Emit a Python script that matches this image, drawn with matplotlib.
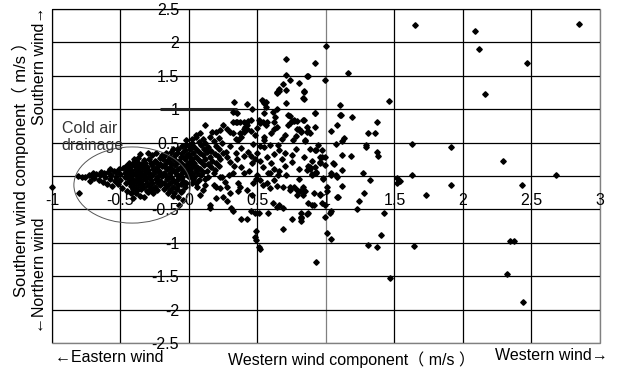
import numpy as np
import matplotlib
matplotlib.use("Agg")
import matplotlib.pyplot as plt
from matplotlib.patches import Ellipse
from matplotlib.ticker import FuncFormatter

plt.rcParams["font.family"] = ["Liberation Sans", "Noto Sans CJK SC", "DejaVu Sans"]
plt.rcParams["font.size"] = 11.5

# ── data: (western component, southern component) in m/s ─────────
outer = [
    (1.65, 2.26), (2.09, 2.17), (2.85, 2.27), (2.12, 1.90), (2.47, 1.69), (2.16, 1.23),
    (1.46, 1.12), (1.16, 1.54), (1.00, 1.94), (0.92, 1.69), (0.87, 1.49), (0.99, 1.43),
    (0.84, 1.27), (0.83, 1.17), (1.10, 1.07), (0.92, 0.94), (1.11, 0.91), (1.10, 0.92),
    (1.19, 0.89), (1.37, 0.81), (0.84, 0.84), (1.08, 0.77), (1.04, 0.68), (0.87, 0.67),
    (0.88, 0.65), (0.82, 0.68), (1.31, 0.65), (1.36, 0.65), (1.13, 0.57), (1.12, 0.53),
    (0.85, 0.53), (1.07, 0.48), (1.29, 0.47), (1.29, 0.44), (0.94, 0.46), (1.63, 0.48),
    (1.91, 0.43), (0.92, 0.39), (0.97, 0.39), (1.12, 0.32), (1.18, 0.30), (1.37, 0.36),
    (1.38, 0.30), (2.29, 0.22), (0.90, 0.23), (0.96, 0.29), (0.99, 0.28), (0.96, 0.20),
    (0.99, 0.17), (0.87, 0.15), (0.88, 0.13), (1.06, 0.18), (1.05, 0.19), (0.93, 0.06),
    (0.90, 0.03), (1.12, 0.09), (1.27, 0.05), (1.32, -0.06), (0.98, -0.03), (1.04, 0.05),
    (1.07, 0.01), (1.12, -0.15), (1.01, -0.17), (1.52, -0.03), (1.54, -0.08), (1.52, -0.11),
    (1.63, 0.01), (1.91, -0.13), (2.43, -0.13), (2.68, 0.01), (1.73, -0.28), (1.24, -0.37),
    (1.28, -0.26), (1.09, -0.31), (0.99, -0.43), (0.90, -0.43), (0.87, -0.41), (0.85, -0.23),
    (0.91, -0.26), (0.96, -0.27), (1.23, -0.49), (1.42, -0.55), (1.03, -0.55), (0.99, -0.62),
    (0.86, -0.57), (0.82, -0.63), (1.01, -0.85), (1.04, -0.94), (1.40, -0.88), (1.31, -1.04),
    (1.37, -1.07), (1.64, -1.05), (0.93, -1.28), (1.47, -1.53), (2.34, -0.97), (2.37, -0.97),
    (2.32, -1.46), (2.44, -1.88), (-1.00, -0.17), (-0.80, -0.25),
]

mid_upper = [
    (0.71, 1.75), (0.71, 1.51), (0.86, 1.50), (0.74, 1.43), (0.80, 1.39), (0.69, 1.37),
    (0.66, 1.30), (0.64, 1.26), (0.71, 1.29), (0.84, 1.26), (0.84, 1.16), (0.71, 1.10),
    (0.92, 0.95), (0.33, 1.11), (0.42, 1.08), (0.46, 1.00), (0.54, 1.13), (0.55, 1.09),
    (0.56, 1.04), (0.53, 1.14), (0.56, 1.11), (0.64, 1.01), (0.61, 0.96), (0.55, 0.95),
    (0.74, 0.90), (0.75, 0.83), (0.77, 0.83), (0.79, 0.83), (0.63, 0.89), (0.51, 0.84),
    (0.54, 0.81), (0.56, 0.76), (0.32, 0.96), (0.35, 0.94), (0.34, 0.81), (0.45, 0.84),
    (0.42, 0.76), (0.40, 0.71), (0.62, 0.81), (0.64, 0.74), (0.72, 0.76), (0.80, 0.71),
    (0.86, 0.74), (0.92, 0.73), (0.66, 1.28), (0.64, 1.25), (0.32, 0.81), (0.35, 0.81),
    (0.37, 0.81), (0.40, 0.81), (0.43, 0.83), (0.41, 0.74), (0.42, 0.70), (0.40, 0.66),
    (0.37, 0.64), (0.38, 0.59), (0.36, 0.54), (0.34, 0.56), (0.32, 0.64), (0.30, 0.66),
    (0.28, 0.71), (0.25, 0.76), (0.23, 0.69), (0.20, 0.66), (0.17, 0.66), (0.12, 0.76),
    (0.08, 0.65), (0.52, 0.79), (0.57, 0.81), (0.60, 0.64), (0.55, 0.59), (0.55, 0.54),
    (0.72, 0.91), (0.74, 0.79), (0.77, 0.84), (0.79, 0.70), (0.82, 0.66), (0.86, 0.66),
    (0.83, 0.84), (0.76, 0.54), (0.85, 0.54), (0.93, 0.39), (0.97, 0.29), (0.75, 0.31),
    (0.75, 0.21), (0.65, 0.46), (0.66, 0.39), (0.59, 0.46), (0.55, 0.44), (0.52, 0.45),
    (0.43, 0.36), (0.34, 0.35), (0.27, 0.36), (0.30, 0.21), (0.38, 0.14), (0.46, 0.19),
    (0.48, 0.26), (0.54, 0.14), (0.62, 0.11), (0.58, 0.04), (0.71, 0.01), (0.74, -0.16),
    (0.77, -0.16), (0.80, -0.04), (0.83, -0.16), (0.88, 0.11), (0.92, 0.14), (0.96, 0.21),
    (0.19, 0.09), (0.24, -0.01), (0.26, -0.09), (0.28, -0.16), (0.20, -0.16), (0.36, -0.23),
    (0.45, 0.30), (0.50, 0.35), (0.57, 0.28), (0.62, 0.33), (0.68, 0.25), (0.70, 0.15),
    (0.60, 0.20), (0.52, 0.22), (0.44, 0.07), (0.50, 0.02), (0.66, 0.07), (0.40, 0.30),
    (0.35, 0.25), (0.38, 0.42), (0.47, 0.48), (0.30, 0.45), (0.28, 0.28), (0.33, 0.15),
    (0.40, 0.05), (0.70, 0.35), (0.78, 0.40), (0.80, 0.10), (0.84, 0.28), (0.88, 0.40),
    (0.78, 0.60), (0.70, 0.62), (0.68, 0.55), (0.62, 0.70), (0.48, 0.62), (0.45, 0.68),
    (0.50, 0.72),
]

mid_lower = [
    (0.15, -0.43), (0.32, -0.53), (0.38, -0.65), (0.42, -0.65), (0.45, -0.53), (0.48, -0.56),
    (0.51, -0.55), (0.49, -0.83), (0.48, -0.91), (0.49, -0.96), (0.51, -1.06), (0.52, -1.10),
    (0.58, -0.56), (0.61, -0.41), (0.64, -0.46), (0.66, -0.43), (0.69, -0.48), (0.69, -0.80),
    (0.75, -0.65), (0.82, -0.56), (0.82, -0.61), (0.82, -0.67), (0.87, -0.56), (0.91, -0.43),
    (1.04, -0.53), (1.08, -0.31), (0.25, -0.31), (0.28, -0.38), (0.20, -0.33), (0.15, -0.48),
    (0.31, -0.48), (0.08, -0.28), (0.10, -0.21), (0.06, -0.16), (0.12, -0.13), (0.18, -0.13),
    (0.23, -0.18), (0.30, -0.26), (0.36, -0.11), (0.37, -0.16), (0.32, 0.04), (0.29, 0.01),
    (0.23, -0.01), (0.18, 0.05), (0.42, -0.21), (0.46, -0.28), (0.47, -0.11), (0.49, -0.04),
    (0.52, -0.06), (0.54, -0.13), (0.57, -0.11), (0.59, -0.18), (0.62, -0.06), (0.64, -0.15),
    (0.65, 0.01), (0.59, 0.04), (0.69, -0.16), (0.74, -0.21), (0.79, -0.21), (0.81, -0.23),
    (0.79, -0.28), (0.83, -0.28), (0.96, -0.28), (1.01, -0.23), (0.97, -0.41), (0.93, 0.04),
    (0.90, 0.01), (0.86, 0.09), (0.98, -0.04), (1.04, 0.01), (1.08, -0.01),
]

core = [
    (-0.05, 0.45), (-0.02, 0.47), (-0.12, 0.40), (-0.08, 0.41), (-0.03, 0.39),
    (-0.17, 0.35), (-0.13, 0.36), (-0.09, 0.34), (-0.05, 0.35), (-0.01, 0.33),
    (-0.18, 0.30), (-0.14, 0.29), (-0.10, 0.31), (-0.06, 0.28), (-0.02, 0.30),
    (-0.19, 0.25), (-0.15, 0.24), (-0.11, 0.26), (-0.07, 0.23), (-0.03, 0.25),
    (-0.17, 0.20), (-0.13, 0.19), (-0.09, 0.21), (-0.05, 0.18), (-0.01, 0.20),
    (-0.18, 0.15), (-0.14, 0.14), (-0.10, 0.16), (-0.06, 0.13), (-0.02, 0.15),
    (-0.16, 0.10), (-0.12, 0.09), (-0.08, 0.11), (-0.04, 0.08), (-0.01, 0.10),
    (-0.18, 0.05), (-0.14, 0.04), (-0.10, 0.06), (-0.06, 0.03), (-0.02, 0.05),
    (-0.17, 0.00), (-0.13, -0.01), (-0.09, 0.01), (-0.05, -0.02), (-0.01, 0.00),
    (-0.16, -0.05), (-0.12, -0.06), (-0.08, -0.04), (-0.04, -0.07),
    (-0.18, -0.10), (-0.14, -0.11), (-0.10, -0.09), (-0.06, -0.12), (-0.02, -0.10),
    (-0.16, -0.15), (-0.12, -0.16), (-0.08, -0.14), (-0.03, -0.17),
    (-0.18, -0.20), (-0.14, -0.21), (-0.09, -0.19), (-0.05, -0.22),
    (-0.15, -0.25), (-0.11, -0.26), (-0.06, -0.24),
    (-0.12, -0.30), (-0.08, -0.31), (-0.04, -0.36), (-0.07, -0.43),
    (0.02, 0.50), (0.07, 0.51), (0.12, 0.49), (0.18, 0.52), (0.24, 0.50),
    (0.00, 0.45), (0.04, 0.44), (0.09, 0.46), (0.14, 0.43), (0.20, 0.45),
    (0.01, 0.40), (0.06, 0.39), (0.11, 0.41), (0.16, 0.38), (0.22, 0.40),
    (0.03, 0.35), (0.08, 0.34), (0.13, 0.36), (0.19, 0.33), (0.25, 0.35),
    (0.00, 0.30), (0.05, 0.29), (0.10, 0.31), (0.15, 0.28), (0.21, 0.30),
    (0.02, 0.25), (0.07, 0.24), (0.12, 0.26), (0.17, 0.23), (0.23, 0.25),
    (0.01, 0.20), (0.04, 0.19), (0.09, 0.21), (0.14, 0.18), (0.20, 0.20),
    (0.03, 0.15), (0.06, 0.14), (0.11, 0.16), (0.16, 0.13), (0.22, 0.15),
    (0.01, 0.10), (0.05, 0.09), (0.08, 0.11), (0.13, 0.08),
    (0.02, 0.05), (0.06, 0.04), (0.10, 0.06),
    (0.01, 0.00), (0.04, -0.01), (0.09, 0.01), (0.14, -0.02),
    (0.03, -0.05), (0.07, -0.06), (0.12, -0.04), (0.02, -0.10), (0.05, -0.11),
    (0.05, 0.58), (0.10, 0.56), (0.15, 0.59), (0.22, 0.57), (0.02, 0.55),
    (-0.02, 0.54), (0.05, 0.62),
]

cold = [
    (-0.81, 0.00), (-0.78, -0.01), (-0.76, -0.02), (-0.73, 0.02), (-0.71, 0.00), (-0.69, -0.03),
    (-0.68, 0.03), (-0.66, -0.06), (-0.65, 0.01), (-0.63, -0.09), (-0.62, 0.04), (-0.61, -0.02),
    (-0.60, -0.12), (-0.59, 0.06), (-0.58, -0.05), (-0.57, 0.02), (-0.56, -0.15), (-0.55, 0.08),
    (-0.54, -0.08), (-0.53, 0.06), (-0.53, -0.02), (-0.52, -0.12), (-0.51, 0.10), (-0.50, 0.03),
    (-0.50, -0.06), (-0.49, -0.18), (-0.48, 0.12), (-0.47, -0.02), (-0.47, 0.05), (-0.46, -0.10),
    (-0.45, -0.22), (-0.45, 0.15), (-0.72, -0.07), (-0.64, 0.06), (-0.58, 0.10), (-0.70, 0.05),
    (-0.36, 0.33), (-0.30, 0.34), (-0.27, 0.31), (-0.24, 0.35), (-0.20, 0.32),
    (-0.40, 0.25), (-0.37, 0.27), (-0.33, 0.24), (-0.29, 0.26), (-0.25, 0.23), (-0.21, 0.27),
    (-0.44, 0.20), (-0.41, 0.19), (-0.38, 0.21), (-0.35, 0.18), (-0.32, 0.20), (-0.28, 0.19),
    (-0.24, 0.21), (-0.21, 0.18),
    (-0.46, 0.15), (-0.43, 0.14), (-0.40, 0.16), (-0.37, 0.13), (-0.34, 0.15), (-0.31, 0.14),
    (-0.27, 0.16), (-0.23, 0.13), (-0.20, 0.15),
    (-0.45, 0.10), (-0.42, 0.09), (-0.39, 0.11), (-0.36, 0.08), (-0.33, 0.10), (-0.30, 0.09),
    (-0.26, 0.11), (-0.22, 0.08),
    (-0.44, 0.05), (-0.41, 0.04), (-0.38, 0.06), (-0.35, 0.03), (-0.32, 0.05), (-0.29, 0.04),
    (-0.25, 0.06), (-0.21, 0.03),
    (-0.45, 0.00), (-0.42, -0.01), (-0.39, 0.01), (-0.36, -0.02), (-0.33, 0.00), (-0.30, -0.01),
    (-0.27, 0.01), (-0.23, -0.02), (-0.20, 0.00),
    (-0.44, -0.05), (-0.41, -0.06), (-0.38, -0.04), (-0.35, -0.07), (-0.32, -0.05), (-0.28, -0.06),
    (-0.24, -0.04), (-0.21, -0.07),
    (-0.43, -0.10), (-0.40, -0.11), (-0.37, -0.09), (-0.34, -0.12), (-0.31, -0.10), (-0.27, -0.11),
    (-0.23, -0.09),
    (-0.42, -0.15), (-0.39, -0.16), (-0.36, -0.14), (-0.33, -0.17), (-0.29, -0.15), (-0.25, -0.16),
    (-0.21, -0.14),
    (-0.41, -0.20), (-0.38, -0.21), (-0.35, -0.19), (-0.31, -0.22), (-0.27, -0.20), (-0.23, -0.21),
    (-0.42, -0.25), (-0.39, -0.26), (-0.30, -0.24), (-0.26, -0.26),
    (-0.41, -0.33), (-0.36, -0.30), (-0.33, -0.31), (-0.28, -0.21),
]

groups = [outer, mid_upper, mid_lower, core, cold]
u = np.array([p[0] for g in groups for p in g])
v = np.array([p[1] for g in groups for p in g])

x_ticks = [-1, -0.5, 0, 0.5, 1, 1.5, 2, 2.5, 3]
y_ticks = [-2.5, -2, -1.5, -1, -0.5, 0, 0.5, 1, 1.5, 2, 2.5]

# ── figure ────────────────────────────────────────────────────────
fig = plt.figure(figsize=(6.18, 3.74), dpi=100)
ax = fig.add_axes([0.0841, 0.0829, 0.8867, 0.8930])
ax.set_xlim(-1, 3)
ax.set_ylim(-2.5, 2.5)
ax.set_xticks(x_ticks)
ax.set_yticks(y_ticks)

# axes cross at the origin (labels sit next to the zero lines)
for s in ["left", "bottom"]:
    ax.spines[s].set_position(("data", 0))
for s in ax.spines.values():
    s.set_visible(False)
ax.patch.set_edgecolor("#808080")
ax.patch.set_linewidth(1.0)

ax.tick_params(axis="both", length=0)
ax.tick_params(axis="x", pad=12)
ax.tick_params(axis="y", pad=7)
ax.xaxis.set_major_formatter(FuncFormatter(lambda val, pos: f"{val:g}"))
ax.yaxis.set_major_formatter(FuncFormatter(lambda val, pos: "" if val == 0 else f"{val:g}"))

ax.grid(True, color="black", lw=0.9)
ax.set_axisbelow(True)
for i, gl in enumerate(ax.get_xgridlines()):
    if x_ticks[i] in (1, 3):
        gl.set_color("#808080")
for i, gl in enumerate(ax.get_ygridlines()):
    if y_ticks[i] == -2.5:
        gl.set_color("#808080")

ax.hlines(1.0, -0.21, 0.35, color="#222222", lw=2.2, zorder=2)

ax.plot(u, v, ls="none", marker="D", ms=2.8, color="black", zorder=3, clip_on=False)

ax.add_patch(Ellipse((-0.415, -0.135), 0.85, 1.14, fill=False, ec="#555555", lw=0.7, zorder=4))
ax.text(-0.93, 0.82, "Cold air\ndrainage", ha="left", va="top", color="#333333",
        linespacing=1.15, zorder=5)

# axis titles
fig.text(0.0841 + 0.005, 0.043, "←Eastern wind", ha="left", va="center")
fig.text(351 / 618, 1 - 360 / 374, "Western wind component（ m/s ）", ha="center", va="center")
fig.text(608 / 618, 1 - 356 / 374, "Western wind→", ha="right", va="center")
fig.text(20 / 618, 1 - 165 / 374, "Southern wind component（ m/s ）", rotation=90,
         ha="center", va="center", fontsize=12)
fig.text(40 / 618, 1 - 66 / 374, "Southern wind→", rotation=90, ha="center", va="center")
fig.text(40 / 618, 1 - 275 / 374, "←Northern wind", rotation=90, ha="center", va="center")

fig.savefig("out.png", dpi=100, facecolor="white")
